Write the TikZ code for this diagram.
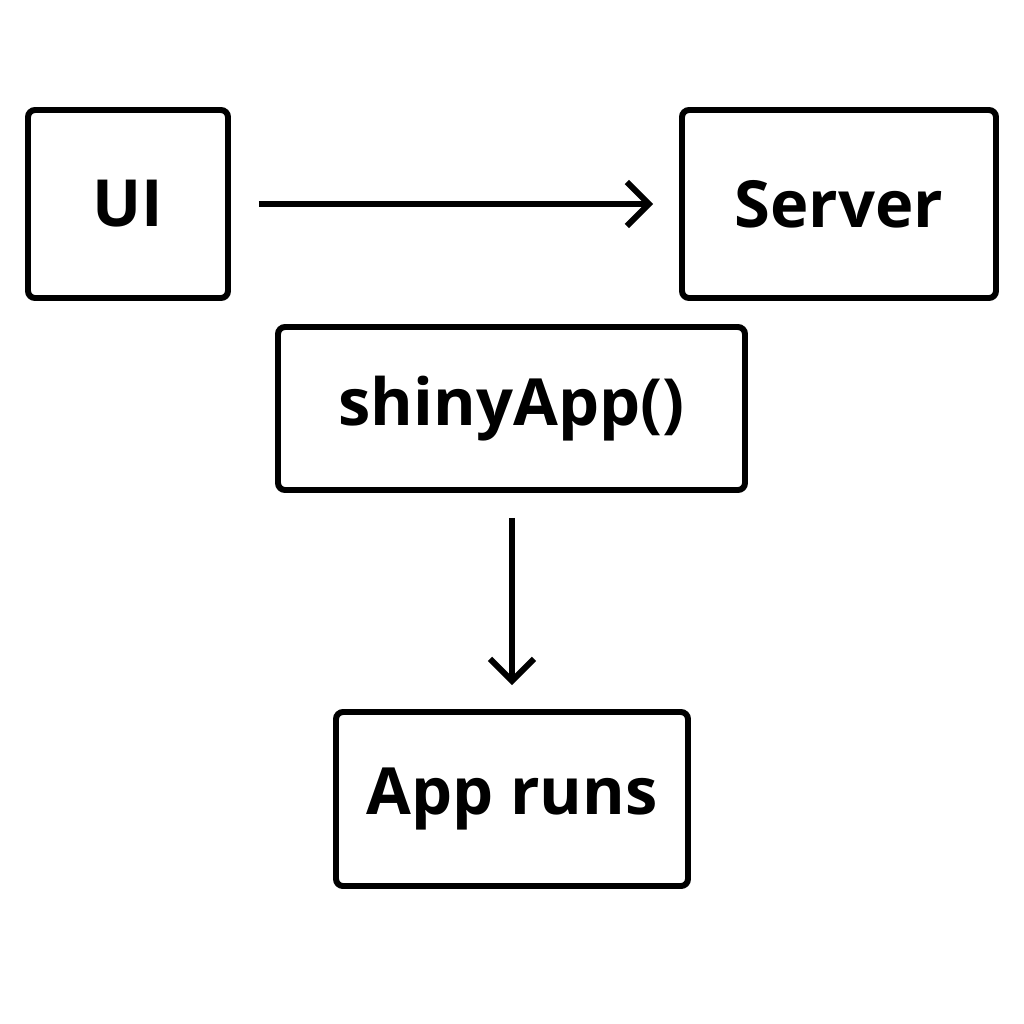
\documentclass[tikz,border=0pt]{standalone}
\usepackage{fontspec}
\setmainfont{Open Sans}
\usetikzlibrary{arrows.meta}
\tikzset{
    box/.style={draw, line width=1.7pt, rounded corners=2pt, inner sep=0pt,
        font=\fontsize{18.5}{22}\selectfont\bfseries},
    flow/.style={-{Straight Barb[length=2.2mm,width=4.4mm]}, line width=1.7pt}
}
\begin{document}
\begin{tikzpicture}
    \useasboundingbox (0,0) rectangle (10.24,-10.24);
    \node[box, minimum width=2.0cm, minimum height=1.88cm] (UI) at (1.28,-2.04) {UI};
    \node[box, minimum width=3.14cm, minimum height=1.88cm] (Server) at (8.39,-2.04) {Server};
    \node[box, minimum width=4.67cm, minimum height=1.63cm] (App) at (5.115,-4.085) {shinyApp()};
    \node[box, minimum width=3.52cm, minimum height=1.74cm] (Runs) at (5.12,-7.99) {App runs};
    \draw[flow, shorten <=0.28cm, shorten >=0.26cm] (UI) -- (Server);
    \draw[flow, shorten <=0.25cm, shorten >=0.24cm] (App.south -| Runs.north) -- (Runs.north);
\end{tikzpicture}
\end{document}
